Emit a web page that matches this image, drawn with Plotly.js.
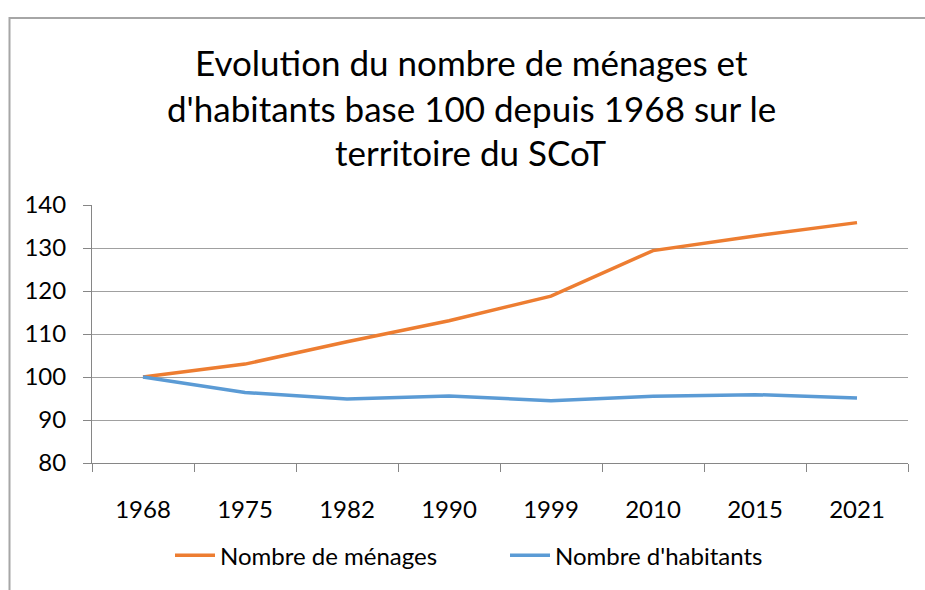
<!DOCTYPE html>
<html>
<head>
<meta charset="utf-8">
<script src="https://cdn.plot.ly/plotly-3.0.1.min.js"></script>
<style>
html,body{margin:0;padding:0;background:#fff;}
#chart{width:925px;height:590px;}
</style>
</head>
<body>
<div id="chart"></div>
<script>
const years = ["1968","1975","1982","1990","1999","2010","2015","2021"];
const menages = [100, 103.0, 108.2, 113.1, 118.8, 129.4, 132.8, 135.9];
const habitants = [100, 96.4, 94.9, 95.6, 94.5, 95.5, 95.9, 95.1];
const yTicks = [80, 90, 100, 110, 120, 130, 140];
const seriesNames = ["Nombre de ménages", "Nombre d'habitants"];
const titleLines = ["Evolution du nombre de ménages et",
                    "d'habitants base 100 depuis 1968 sur le",
                    "territoire du SCoT"];

const FONT = "Lato, Carlito, Calibri, 'Open Sans', sans-serif";

const traces = [
  {x: years, y: menages, name: seriesNames[0], type: 'scatter', mode: 'lines',
   line: {color: '#ED7D31', width: 3.5}},
  {x: years, y: habitants, name: seriesNames[1], type: 'scatter', mode: 'lines',
   line: {color: '#5B9BD5', width: 3.5}}
];

const L = 92, R = 17, T = 205, B = 123;
const W = 925 - L - R, H = 590 - T - B;
const px = v => (v - L) / W;
const py = v => (590 - B - v) / H;

const titleY = [60, 106, 151];
const annotations = titleLines.map((t, i) => ({
  text: t, xref: 'paper', yref: 'paper', x: px(471), y: py(titleY[i]),
  xanchor: 'center', yanchor: 'middle', showarrow: false,
  font: {family: FONT, size: 35, color: '#000'}
}));

const layout = {
  width: 925, height: 590,
  margin: {l: L, r: R, t: T, b: B, pad: 0},
  paper_bgcolor: '#fff', plot_bgcolor: '#fff',
  font: {family: FONT, color: '#000', size: 24},
  showlegend: true,
  legend: {orientation: 'h', x: px(170), xanchor: 'left', y: py(561), yanchor: 'middle',
           font: {family: FONT, size: 24, color: '#000'}, itemwidth: 40, tracegroupgap: 0,
           entrywidth: 280, entrywidthmode: 'pixels',
           bgcolor: 'rgba(0,0,0,0)'},
  xaxis: {type: 'category', range: [-0.5, 7.5], tickson: 'boundaries', ticks: 'outside', ticklen: 8,
          tickcolor: '#868686', tickwidth: 1, showgrid: false, showline: true,
          linecolor: '#868686', linewidth: 1, zeroline: false,
          ticklabelstandoff: 25, tickfont: {family: FONT, size: 24, color: '#000'},
          fixedrange: true},
  yaxis: {range: [80, 140], tickvals: yTicks, ticktext: yTicks.map(String),
          ticks: 'outside', ticklen: 8, tickcolor: '#868686', tickwidth: 1,
          showgrid: true, gridcolor: '#A0A0A0', gridwidth: 1,
          showline: true, linecolor: '#868686', linewidth: 1, zeroline: false,
          ticklabelstandoff: 12, tickfont: {family: FONT, size: 24, color: '#000'},
          fixedrange: true},
  annotations: annotations,
  shapes: [
    {type: 'path', xref: 'paper', yref: 'paper',
     path: `M ${px(9.5)} ${py(600)} L ${px(9.5)} ${py(15)} L ${px(935)} ${py(15)}`,
     line: {color: '#A6A6A6', width: 2}}
  ]
};

Plotly.newPlot('chart', traces, layout, {displayModeBar: false, staticPlot: true});
</script>
</body>
</html>
